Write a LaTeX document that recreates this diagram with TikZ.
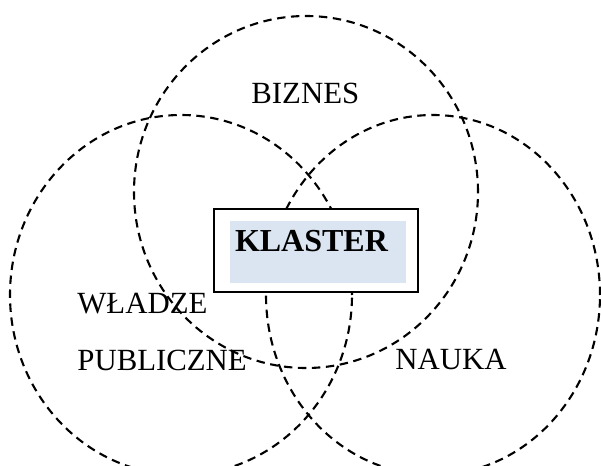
\documentclass[tikz,border=0pt]{standalone}
\usepackage{fontspec}
\setmainfont{Liberation Serif}
\usetikzlibrary{shapes}

\definecolor{klasterfill}{HTML}{DBE5F1}

\begin{document}
\begin{tikzpicture}[x=0.5pt,y=-0.5pt]
    \tikzstyle{ring}=[ellipse,draw,dashed,dash pattern=on 4.2pt off 2.8pt,line width=1.05pt,inner sep=0pt]
    \tikzstyle{sector}=[anchor=base west,inner sep=0pt,font=\fontsize{15.4}{18}\selectfont]
    \useasboundingbox (0,0) rectangle (601,466);
    \begin{scope}
    \clip (0,0) rectangle (601,466);
    \node[ring,minimum width=172pt,minimum height=176pt] (biznes) at (306,192) {};
    \node[ring,minimum width=171pt,minimum height=180pt] (wladze) at (181,295) {};
    \node[ring,minimum width=167pt,minimum height=180pt] (nauka) at (433,295) {};
    \end{scope}
    \node[draw,line width=1pt,fill=white,minimum width=102pt,minimum height=41.5pt] (frame) at (316,250.5) {};
    \node[fill=klasterfill,minimum width=88pt,minimum height=31pt,text width=83pt,inner xsep=2.5pt,
          text height=10.5pt,text depth=10.5pt,align=left,font=\fontsize{16}{18}\selectfont\bfseries]
          (klaster) at (frame.center) [xshift=1pt,yshift=-0.5pt] {KLASTER};
    \node[sector] (biznestxt) at (251,104) {BIZNES};
    \node[sector] (wladzetxt) at (77,313) {WŁADZE};
    \node[sector] (publtxt) at (77,370) {PUBLICZNE};
    \node[sector] (naukatxt) at (395,369) {NAUKA};
\end{tikzpicture}
\end{document}
